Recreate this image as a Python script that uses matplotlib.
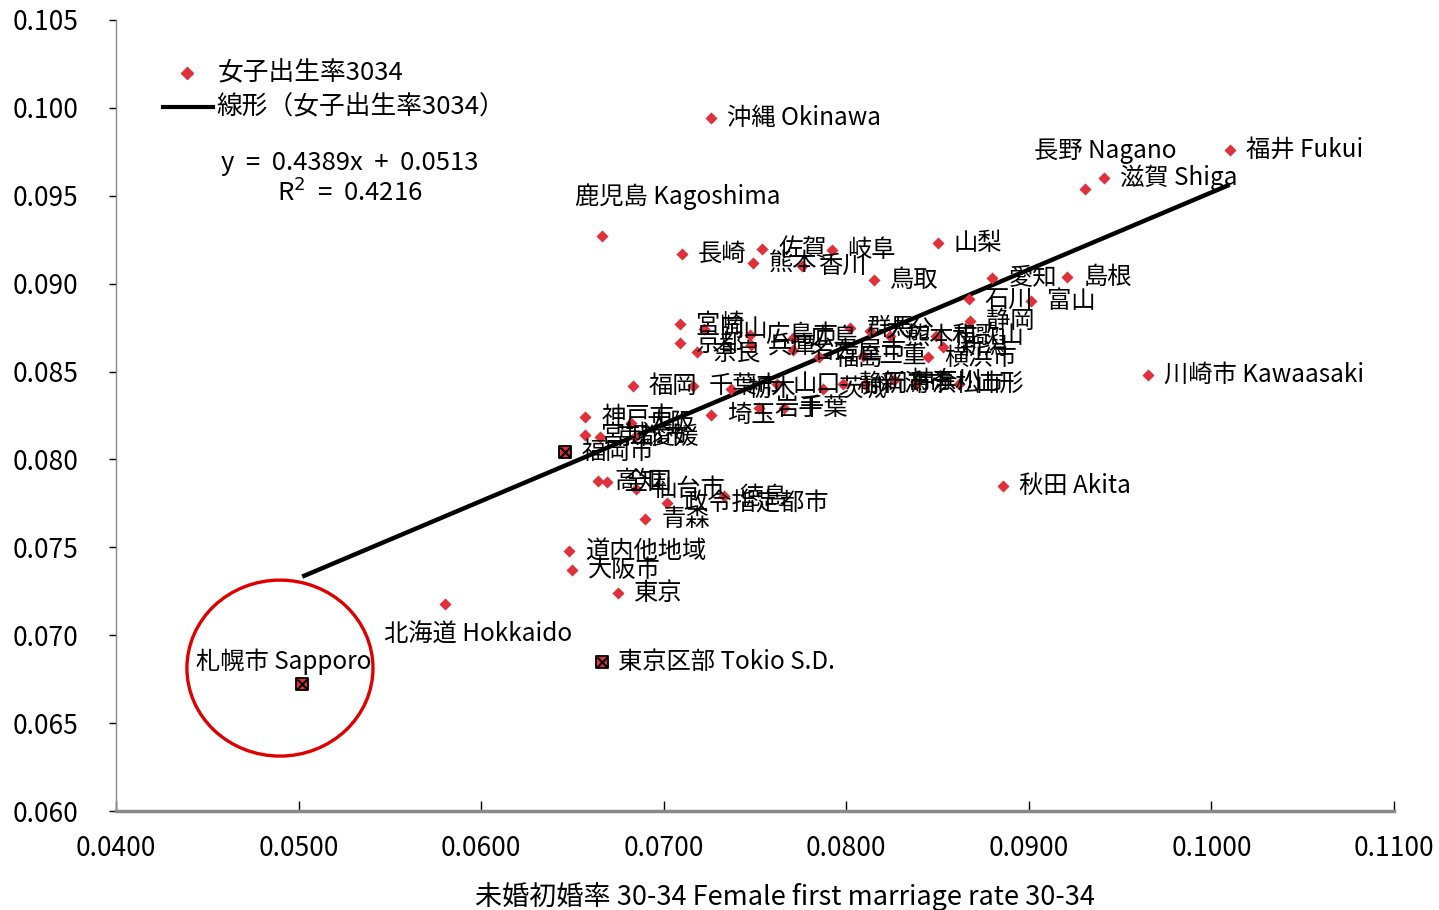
import matplotlib
matplotlib.use('Agg')
import matplotlib.pyplot as plt
from matplotlib.patches import Ellipse
from matplotlib.lines import Line2D
import numpy as np

plt.rcParams['font.family'] = ['Noto Sans CJK JP', 'DejaVu Sans']

# ---- data ----
labels = [
    '沖縄 Okinawa', '福井 Fukui', '滋賀 Shiga', '長野 Nagano', '鹿児島 Kagoshima',
    '長崎', '佐賀', '熊本', '香川', '岐阜', '鳥取', '山梨', '愛知', '島根', '石川',
    '富山', '静岡', '宮崎', '京都', '奈良', '岡山', '広島市', '兵庫', '広島',
    '名古屋市', '福島', '群馬', '大分', '熊本市', '和歌山', '新潟', '三重', '横浜市',
    '福岡', '千葉市', '栃木', '山口', '岩手', '千葉', '茨城', '静岡市', '新潟市',
    '神奈川', '浜松市', '山形', '埼玉', '神戸市', '大阪', '宮城', '京都市', '愛媛',
    '福岡市', '高知', '全国', '仙台市', '政令指定都市', '徳島', '青森', '秋田 Akita',
    '川崎市 Kawaasaki', '道内他地域', '大阪市', '東京', '北海道 Hokkaido',
    '札幌市 Sapporo', '東京区部 Tokio S.D.',
]
marriage_rate = [
    0.0726, 0.1010, 0.0941, 0.0931, 0.0666,
    0.0710, 0.0754, 0.0749, 0.0776, 0.0792, 0.0815, 0.0850, 0.0880, 0.0921, 0.0867,
    0.0901, 0.0868, 0.0709, 0.0709, 0.0718, 0.0722, 0.0747, 0.0748, 0.0771,
    0.0771, 0.0785, 0.0802, 0.0813, 0.0824, 0.0849, 0.0853, 0.0809, 0.0845,
    0.0683, 0.0716, 0.0737, 0.0762, 0.0752, 0.0766, 0.0787, 0.0798, 0.0810,
    0.0826, 0.0838, 0.0862, 0.0726, 0.0657, 0.0682, 0.0657, 0.0665, 0.0684,
    0.0646, 0.0664, 0.0669, 0.0685, 0.0702, 0.0733, 0.0690, 0.0886,
    0.0965, 0.0648, 0.0650, 0.0675, 0.0580,
    0.0502, 0.0666,
]
birth_rate = [
    0.0994, 0.0976, 0.0960, 0.0954, 0.0927,
    0.0917, 0.0920, 0.0912, 0.0910, 0.0919, 0.0902, 0.0923, 0.0903, 0.0904, 0.0891,
    0.0890, 0.0879, 0.0877, 0.0866, 0.0861, 0.0874, 0.0871, 0.0865, 0.0869,
    0.0862, 0.0858, 0.0875, 0.0873, 0.0870, 0.0870, 0.0864, 0.0859, 0.0858,
    0.0842, 0.0842, 0.0840, 0.0843, 0.0829, 0.0829, 0.0840, 0.0843, 0.0843,
    0.0845, 0.0843, 0.0843, 0.0825, 0.0824, 0.0821, 0.0814, 0.0813, 0.0813,
    0.0804, 0.0788, 0.0787, 0.0783, 0.0775, 0.0779, 0.0766, 0.0785,
    0.0848, 0.0748, 0.0737, 0.0724, 0.0718,
    0.0672, 0.0685,
]
highlighted = ['札幌市 Sapporo', '東京区部 Tokio S.D.', '福岡市']

slope = 0.4389
intercept = 0.0513
r_squared = 0.4216

x_ticks = [0.04, 0.05, 0.06, 0.07, 0.08, 0.09, 0.10, 0.11]
y_ticks = [0.060, 0.065, 0.070, 0.075, 0.080, 0.085, 0.090, 0.095, 0.100, 0.105]

legend_point = '女子出生率3034'
legend_line = '線形（女子出生率3034）'
x_title = '未婚初婚率 30-34 Female first marriage rate 30-34'

# label offsets (pixels) for labels not placed to the right of their point
special_offsets = {
    '鹿児島 Kagoshima': (-27, 40),
    '長野 Nagano': (-51, 38),
    '北海道 Hokkaido': (-61, -31),
    '札幌市 Sapporo': (-106, 23),
}

RED = '#E0313A'

fig = plt.figure(figsize=(14.39, 9.10), dpi=100)
ax = fig.add_axes([116/1439, 99/910, (1394-116)/1439, (811-20)/910])

xs = np.array(marriage_rate)
ys = np.array(birth_rate)
hl = np.array([l in highlighted for l in labels])

# trend line
xl = np.array([xs.min(), xs.max()])
ax.plot(xl, slope * xl + intercept, color='black', lw=3.2, zorder=2, solid_capstyle='butt')

ax.scatter(xs[~hl], ys[~hl], marker='D', s=38, color=RED, zorder=3, linewidths=0)
ax.scatter(xs[hl], ys[hl], marker='s', s=75, color=RED, edgecolors='black', linewidths=1.3, zorder=3)
ax.scatter(xs[hl], ys[hl], marker='x', s=50, color='black', linewidths=1.5, zorder=4)

for lab, x, y in zip(labels, xs, ys):
    off = special_offsets.get(lab, (16, 0))
    ax.annotate(lab, (x, y), xytext=off, textcoords='offset pixels',
                ha='left', va='center', fontsize=17.5, color='black', zorder=5)

# red circle around Sapporo
ax.add_patch(Ellipse((0.04898, 0.06813), 0.01019, 0.01001, fill=False,
                     edgecolor='#E00000', lw=2.4, zorder=6))

ax.set_xlim(0.04, 0.11)
ax.set_ylim(0.060, 0.105)
ax.set_xticks(x_ticks)
ax.set_yticks(y_ticks)
ax.set_xticklabels(['%.4f' % v for v in x_ticks])
ax.set_yticklabels(['%.3f' % v for v in y_ticks])
ax.tick_params(axis='x', direction='in', length=7, width=1, colors='black', pad=17, labelsize=19)
ax.tick_params(axis='y', direction='out', length=5, width=1, colors='black', pad=22, labelsize=19)
for s in ['top', 'right']:
    ax.spines[s].set_visible(False)
ax.spines['left'].set_color('#888888')
ax.spines['left'].set_linewidth(1)
ax.spines['bottom'].set_color('#888888')
ax.spines['bottom'].set_linewidth(2.5)

fig.text(785/1439, 1 - 897/910, x_title, ha='center', va='center', fontsize=19.5)

# legend (manual)
fig.add_artist(Line2D([187/1439], [1 - 73/910], marker='D', markersize=6, color=RED, lw=0,
                      transform=fig.transFigure))
fig.text(218/1439, 1 - 73/910, legend_point, ha='left', va='center', fontsize=18.5)
fig.add_artist(Line2D([163/1439, 213/1439], [1 - 107/910, 1 - 107/910], color='black', lw=3,
                      transform=fig.transFigure))
fig.text(216/1439, 1 - 107/910, legend_line, ha='left', va='center', fontsize=18.5)

fig.text(350/1439, 1 - 163/910, 'y  =  %.4fx  +  %.4f' % (slope, intercept), ha='center', va='center', fontsize=18.5)
fig.text(350/1439, 1 - 193/910, 'R$^2$  =  %.4f' % r_squared, ha='center', va='center', fontsize=18.5)

fig.savefig('out.png', dpi=100)
